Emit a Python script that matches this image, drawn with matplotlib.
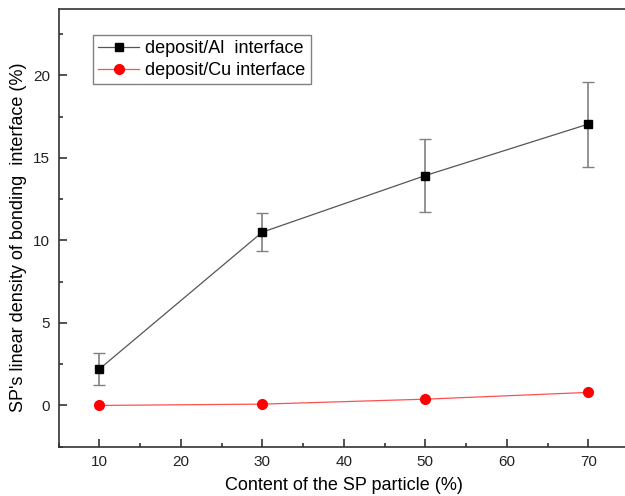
import matplotlib
matplotlib.use("Agg")
from matplotlib import pyplot as plt
from matplotlib.ticker import MultipleLocator

plt.rcParams['font.family'] = ['Liberation Sans', 'DejaVu Sans']

# SP particle content (%)
content = [10, 30, 50, 70]
# deposit/Al interface, mean and error bar ends
al_mean = [2.2, 10.5, 13.93, 17.05]
al_low = [1.25, 9.33, 11.72, 14.48]
al_high = [3.2, 11.67, 16.13, 19.6]
# deposit/Cu interface
cu_mean = [0.0, 0.08, 0.38, 0.79]

al_err = [[m - lo for m, lo in zip(al_mean, al_low)],
          [hi - m for m, hi in zip(al_mean, al_high)]]

fig = plt.figure(figsize=(6.25, 4.96), dpi=100)
ax = fig.add_axes([0.0936, 0.0994, 0.9128, 0.8816])

ax.errorbar(content, al_mean, yerr=al_err, fmt='none', ecolor='#808080',
            elinewidth=1.2, capsize=4, capthick=1.0, zorder=2)
ax.plot(content, al_mean, color='#555555', linewidth=0.9, marker='s',
        markersize=6.2, markerfacecolor='black', markeredgecolor='black',
        label='deposit/Al  interface', zorder=3)
ax.plot(content, cu_mean, color='#ff5050', linewidth=0.9, marker='o',
        markersize=7, markerfacecolor='red', markeredgecolor='red',
        label='deposit/Cu interface', zorder=3)

ax.set_xlim(5, 75)
ax.set_ylim(-2.5, 24)
ax.xaxis.set_major_locator(MultipleLocator(10))
ax.xaxis.set_minor_locator(MultipleLocator(5))
ax.yaxis.set_major_locator(MultipleLocator(5))
ax.yaxis.set_minor_locator(MultipleLocator(2.5))
ax.set_xticks([10, 20, 30, 40, 50, 60, 70])
ax.tick_params(which='both', direction='in', width=1.1, color='#222222',
               labelsize=11, labelcolor='#222222', top=False, right=False)
ax.tick_params(which='major', length=5.5, pad=6)
ax.tick_params(which='minor', length=3)

for side in ['left', 'bottom', 'top', 'right']:
    ax.spines[side].set_linewidth(1.2)
    ax.spines[side].set_color('#333333')

ax.set_xlabel("Content of the SP particle (%)", fontsize=13, labelpad=6)
ax.set_ylabel("SP's linear density of bonding  interface (%)", fontsize=13)
ax.yaxis.set_label_coords(-0.055, 0.48)

leg = ax.legend(loc='upper left', bbox_to_anchor=(92.5 / 625, 1 - 35 / 496),
                bbox_transform=fig.transFigure, fontsize=13, frameon=True,
                fancybox=False, framealpha=1, edgecolor='#808080',
                handlelength=2.3, handletextpad=0.3, labelspacing=0.25,
                borderpad=0.3, borderaxespad=0)
leg.get_frame().set_linewidth(1.0)

fig.savefig("out.png", dpi=100)
